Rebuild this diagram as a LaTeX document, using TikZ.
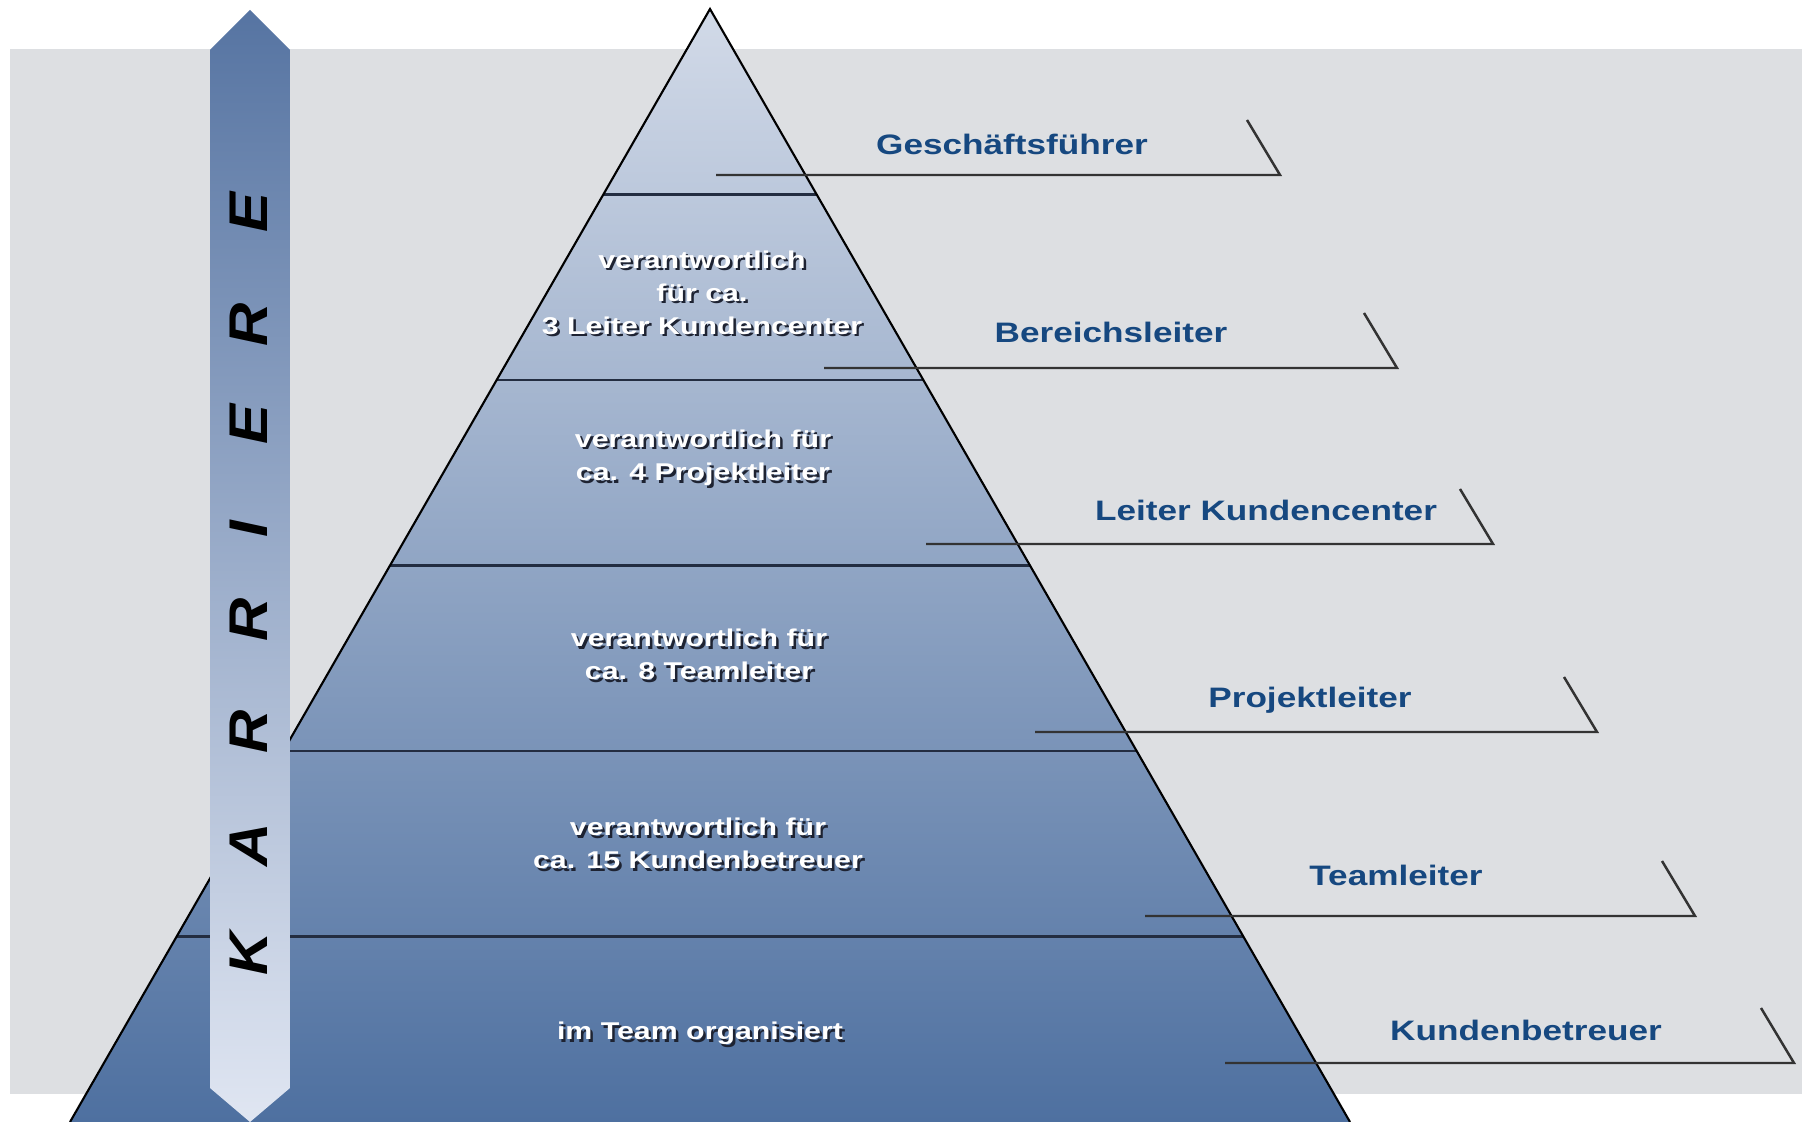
\documentclass[tikz,border=0pt]{standalone}
\usepackage{fontspec}
\usepackage{tikz}
\usetikzlibrary{calc}
\usepackage{xcolor}
\newfontfamily\wideface{Liberation Sans}[FakeStretch=1.25]
\newfontfamily\karface{Liberation Sans}[FakeStretch=1.1]
\definecolor{paper}{RGB}{221,223,226}
\definecolor{pyrtop}{RGB}{210,218,232}
\definecolor{pyrbot}{RGB}{78,112,160}
\definecolor{arrtop}{RGB}{86,116,162}
\definecolor{arrbot}{RGB}{224,230,242}
\definecolor{rankblue}{RGB}{22,72,128}
\definecolor{tierline}{RGB}{35,45,65}
\definecolor{txtshadow}{RGB}{30,35,50}
\newcommand{\sh}[1]{\leavevmode\rlap{\hspace{0.7pt}\raisebox{-0.7pt}{\color{txtshadow}#1}}#1}
\tikzstyle{rank}=[text=rankblue, font=\wideface\bfseries\fontsize{8}{10}\selectfont, anchor=base, inner sep=0pt]
\tikzstyle{duty}=[text=white, font=\wideface\bfseries\fontsize{6.9}{9.4}\selectfont, align=center, inner sep=0pt]
\tikzstyle{leader}=[draw=black!80, line width=0.7pt]
\tikzstyle{letter}=[font=\karface\bfseries\itshape\fontsize{15.5}{16}\selectfont, rotate=90, inner sep=0pt]

\begin{document}
\begin{tikzpicture}[x=0.01cm,y=-0.01cm]
    \useasboundingbox (0,0) rectangle (1802,1122);
    \fill[paper] (10,49) rectangle (1802,1094);

    % pyramid
    \coordinate (top) at (710,9);
    \coordinate (bl) at (70,1122);
    \coordinate (br) at (1350,1122);
    \shade[top color=pyrtop, bottom color=pyrbot] (top) -- (bl) -- (br) -- cycle;
    \foreach \k in {1,...,5}
        \draw[draw=tierline, line width=0.6pt] ($(top)!\k/6!(bl)$) -- ($(top)!\k/6!(br)$);
    \draw[line width=0.6pt] (bl) -- (top) -- (br);

    % texts in the tiers
    \node[duty] (d2) at (702,294) {\sh{verantwortlich}\\\sh{für ca.}\\\sh{3 Leiter Kundencenter}};
    \node[duty] (d3) at (703,459) {\sh{verantwortlich für}\\\sh{ca. 4 Projektleiter}};
    \node[duty] (d4) at (699,656) {\sh{verantwortlich für}\\\sh{ca. 8 Teamleiter}};
    \node[duty] (d5) at (698,845) {\sh{verantwortlich für}\\\sh{ca. 15 Kundenbetreuer}};
    \node[duty] (d6) at (700,1035) {\sh{im Team organisiert}};

    % ranks on the right
    \foreach \t/\tx/\by/\ly/\xs/\xe [count=\i] in {
        Geschäftsführer/1012/155/175/716/1280,
        Bereichsleiter/1111/343/368/824/1397,
        Leiter Kundencenter/1266/521/544/926/1493,
        Projektleiter/1310/708/732/1035/1597,
        Teamleiter/1396/886/916/1145/1695,
        Kundenbetreuer/1526/1041/1063/1225/1794}
    {
        \node[rank] (r\i) at (\tx,\by) {\t};
        \coordinate (s\i) at (\xs,\ly);
        \coordinate (e\i) at (\xe,\ly);
        \coordinate (h\i) at (\xe-33,\ly-55);
        \draw[leader] (s\i) -- (e\i) -- (h\i);
    }

    % career arrow
    \shade[top color=arrtop, bottom color=arrbot]
        (210,50) -- (250,10) -- (290,50) -- (290,1088) -- (250,1122) -- (210,1088) -- cycle;
    \foreach \c/\y [count=\i] in {K/954, A/845, R/732, R/620, I/529, E/425, R/325, E/213}
        \node[letter] (k\i) at (249,\y) {\c};
\end{tikzpicture}
\end{document}
